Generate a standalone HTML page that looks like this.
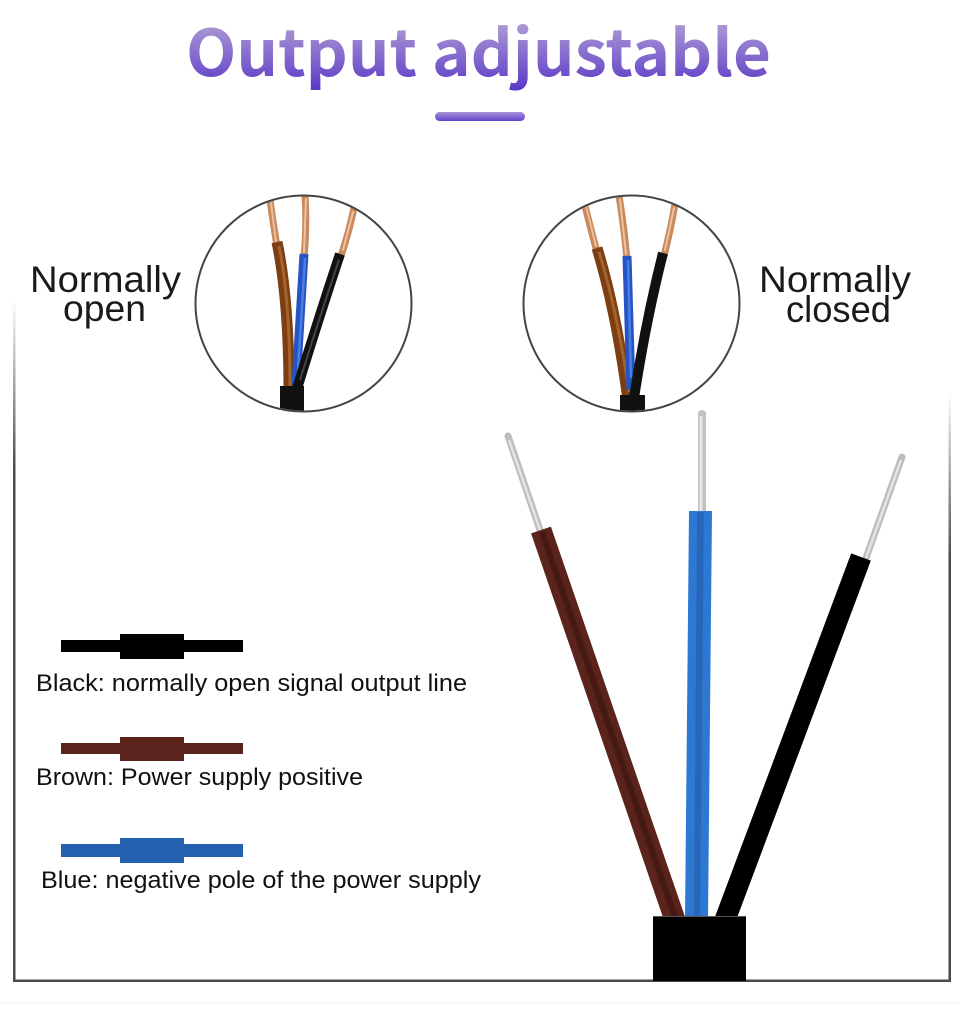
<!DOCTYPE html>
<html>
<head>
<meta charset="utf-8">
<style>
  html,body{margin:0;padding:0;background:#fff;}
  body{width:960px;height:1011px;overflow:hidden;}
  svg{display:block;}
</style>
</head>
<body>
<svg width="960" height="1011" viewBox="0 0 960 1011" xmlns="http://www.w3.org/2000/svg">
  <defs>
    <linearGradient id="tg" gradientUnits="userSpaceOnUse" x1="0" y1="22" x2="0" y2="90">
      <stop offset="0" stop-color="#ae9cd3"/>
      <stop offset="1" stop-color="#5b39c8"/>
    </linearGradient>
    <linearGradient id="bar" x1="0" y1="0" x2="0" y2="1">
      <stop offset="0" stop-color="#a592d8"/>
      <stop offset="1" stop-color="#6542cb"/>
    </linearGradient>
    <linearGradient id="fl" gradientUnits="userSpaceOnUse" x1="0" y1="300" x2="0" y2="470">
      <stop offset="0" stop-color="#4a4a4a" stop-opacity="0"/>
      <stop offset="1" stop-color="#4a4a4a" stop-opacity="1"/>
    </linearGradient>
    <linearGradient id="fr" gradientUnits="userSpaceOnUse" x1="0" y1="392" x2="0" y2="560">
      <stop offset="0" stop-color="#4a4a4a" stop-opacity="0"/>
      <stop offset="1" stop-color="#4a4a4a" stop-opacity="1"/>
    </linearGradient>
    <clipPath id="c1"><circle cx="303.5" cy="303.5" r="107"/></clipPath>
    <clipPath id="c2"><circle cx="631.5" cy="303.5" r="107"/></clipPath>
  </defs>

  <!-- Title -->
  <text x="186" y="76" font-family="'Noto Sans CJK SC','Liberation Sans',sans-serif" font-weight="700" font-size="64" fill="url(#tg)" textLength="585" lengthAdjust="spacingAndGlyphs">Output adjustable</text>
  <rect x="435" y="112" width="90" height="9" rx="4.5" fill="url(#bar)"/>

  <!-- Frame -->
  <rect x="13" y="300" width="2.5" height="682" fill="url(#fl)"/>
  <rect x="948.5" y="392" width="2.5" height="590" fill="url(#fr)"/>
  <rect x="13" y="979.5" width="938" height="2.5" fill="#4a4a4a"/>
  <rect x="0" y="1002.5" width="960" height="1" fill="#eeeeee"/>

  <!-- Labels -->
  <g font-family="'Liberation Sans',sans-serif" fill="#1a1a1a" font-size="37">
    <text x="30" y="292" textLength="151" lengthAdjust="spacingAndGlyphs">Normally</text>
    <text x="63" y="321" textLength="83" lengthAdjust="spacingAndGlyphs">open</text>
    <text x="759" y="292" textLength="152" lengthAdjust="spacingAndGlyphs">Normally</text>
    <text x="786" y="322" textLength="105" lengthAdjust="spacingAndGlyphs">closed</text>
  </g>

  <!-- Left circle -->
  <g clip-path="url(#c1)">
    <g stroke="#c98a5e" stroke-linecap="round" fill="none">
      <path d="M270,200 Q273,222 277,246" stroke-width="7"/>
      <path d="M271,203 L276,242" stroke="#e8c0a0" stroke-width="2"/>
      <path d="M305,195 Q307,225 304,257" stroke-width="7"/>
      <path d="M306,199 L304,252" stroke="#ecc4a4" stroke-width="2"/>
      <path d="M354,208 Q349,232 341,256" stroke-width="7"/>
      <path d="M353,212 L343,250" stroke="#ecc4a4" stroke-width="2"/>
    </g>
    <path d="M277,242 Q289,300 289,392" stroke="#7c3e12" stroke-width="11" fill="none"/>
    <path d="M279,246 Q290,300 290,388" stroke="#a5642c" stroke-width="3" fill="none"/>
    <path d="M304,254 L296,385" stroke="#2654c4" stroke-width="9" fill="none"/>
    <path d="M305,258 L298,370" stroke="#4a7fe0" stroke-width="2.5" fill="none"/>
    <path d="M340,254 Q318,320 296,392" stroke="#111" stroke-width="10" fill="none"/>
    <path d="M339,260 Q318,322 300,380" stroke="#444" stroke-width="2" fill="none"/>
    <rect x="280" y="386" width="24" height="30" fill="#111"/>
  </g>
  <circle cx="303.5" cy="303.5" r="108" fill="none" stroke="#444" stroke-width="2"/>

  <!-- Right circle -->
  <g clip-path="url(#c2)">
    <g stroke="#c98a5e" stroke-linecap="round" fill="none">
      <path d="M584,202 Q590,226 597,252" stroke-width="7"/>
      <path d="M586,206 L596,246" stroke="#e8c0a0" stroke-width="2"/>
      <path d="M619,196 Q624,226 627,260" stroke-width="7"/>
      <path d="M620,200 L626,254" stroke="#ecc4a4" stroke-width="2"/>
      <path d="M675,204 Q671,228 664,256" stroke-width="7"/>
      <path d="M674,208 L665,250" stroke="#ecc4a4" stroke-width="2"/>
    </g>
    <path d="M597,248 Q616,310 628,400" stroke="#7c3e12" stroke-width="11" fill="none"/>
    <path d="M599,252 Q617,310 629,392" stroke="#a5642c" stroke-width="3" fill="none"/>
    <path d="M627,256 L631,390" stroke="#2654c4" stroke-width="9" fill="none"/>
    <path d="M628,260 L631,378" stroke="#4a7fe0" stroke-width="2.5" fill="none"/>
    <path d="M663,253 Q646,320 634,398" stroke="#111" stroke-width="10" fill="none"/>
    <rect x="620" y="395" width="25" height="22" fill="#111"/>
  </g>
  <circle cx="631.5" cy="303.5" r="108" fill="none" stroke="#444" stroke-width="2"/>

  <!-- Big wires: silver tips -->
  <line x1="508" y1="436" x2="540" y2="530" stroke="#bdbdbd" stroke-width="7" stroke-linecap="round"/>
  <line x1="509" y1="440" x2="540" y2="530" stroke="#e4e4e4" stroke-width="2.5"/>
  <line x1="702" y1="414" x2="702" y2="512" stroke="#c2c2c2" stroke-width="8" stroke-linecap="round"/>
  <line x1="701" y1="416" x2="701" y2="512" stroke="#e6e6e6" stroke-width="3"/>
  <line x1="902" y1="457" x2="866" y2="558" stroke="#bdbdbd" stroke-width="7" stroke-linecap="round"/>
  <line x1="901" y1="460" x2="866" y2="558" stroke="#e4e4e4" stroke-width="2.5"/>

  <!-- Brown wire -->
  <line x1="541" y1="530" x2="675" y2="920" stroke="#5a231b" stroke-width="21"/>
  <line x1="542" y1="532" x2="676" y2="920" stroke="#461912" stroke-width="6"/>
  <!-- Blue wire -->
  <polygon points="689,511 712,511 708,920 685,920" fill="#2c78d2"/>
  <polygon points="697,512 704,512 700,920 694,920" fill="#2866ba"/>
  <!-- Black wire -->
  <line x1="861" y1="557" x2="725" y2="920" stroke="#000" stroke-width="21"/>

  <!-- Jacket -->
  <rect x="653" y="916" width="93" height="65" fill="#000"/>
  <rect x="653" y="916" width="93" height="1" fill="#555"/>

  <!-- Legend -->
  <rect x="61" y="640" width="182" height="12" fill="#000"/>
  <rect x="120" y="634" width="64" height="25" fill="#000"/>
  <rect x="61" y="743" width="182" height="11" fill="#5a241c"/>
  <rect x="120" y="737" width="64" height="24" fill="#5a241c"/>
  <rect x="61" y="844" width="182" height="13" fill="#2460b0"/>
  <rect x="120" y="838" width="64" height="25" fill="#2460b0"/>

  <g font-family="'Liberation Sans',sans-serif" fill="#111" font-size="24">
    <text x="36" y="691" textLength="431" lengthAdjust="spacingAndGlyphs">Black: normally open signal output line</text>
    <text x="36" y="785" textLength="327" lengthAdjust="spacingAndGlyphs">Brown: Power supply positive</text>
    <text x="41" y="888" textLength="440" lengthAdjust="spacingAndGlyphs">Blue: negative pole of the power supply</text>
  </g>
</svg>
</body>
</html>
